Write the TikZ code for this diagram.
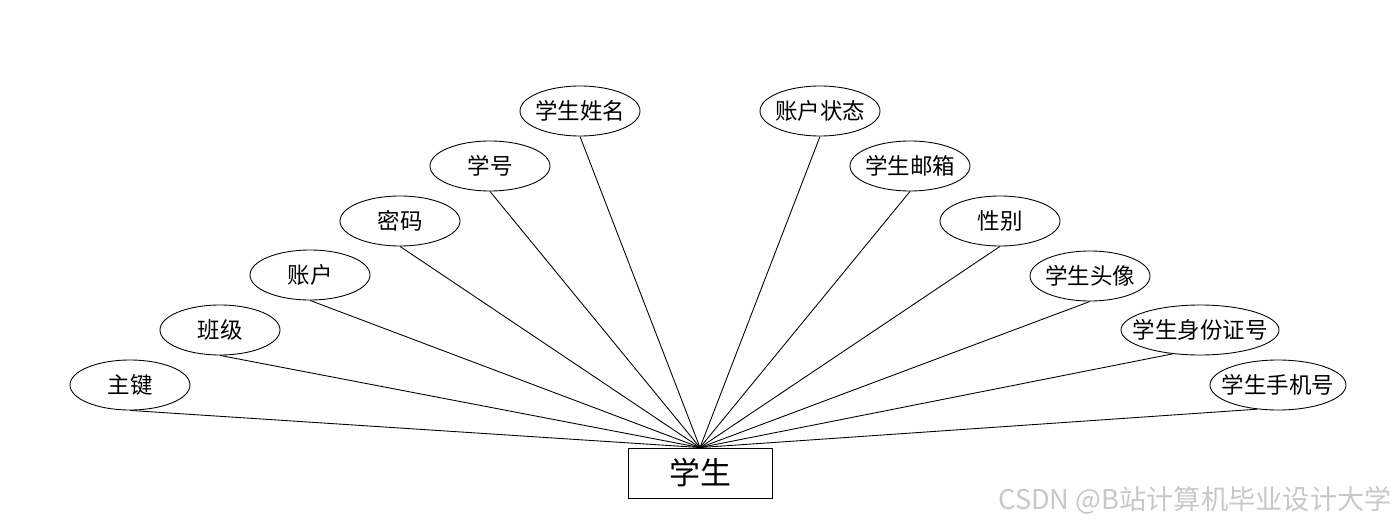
\documentclass[tikz,border=0pt]{standalone}
\usepackage{fontspec}
\setmainfont{Noto Sans CJK SC}
\usetikzlibrary{shapes.geometric}
\definecolor{markcol}{RGB}{200,200,200}

\begin{document}
\begin{tikzpicture}[
  attr/.style ={ellipse,draw,minimum width=2.4cm,minimum height=1.0cm,
                inner xsep=-0.4cm,inner ysep=0pt,font=\fontsize{12.8}{14}\selectfont,
                line width=0.5pt},
  entity/.style={rectangle,draw,minimum width=2.88cm,minimum height=1.0cm,
                inner sep=0pt,font=\fontsize{17.6}{20}\selectfont,line width=0.5pt},
  conn/.style ={black,line width=0.5pt}
]
\useasboundingbox (0,0) rectangle (28,10.56);

\node[entity] (stu) at (14.0, 1.10) {学生};

\node[attr] (zj)  at ( 2.6, 2.86) {主键};
\node[attr] (bj)  at ( 4.4, 3.96) {班级};
\node[attr] (zh)  at ( 6.2, 5.06) {账户};
\node[attr] (mm)  at ( 8.0, 6.14) {密码};
\node[attr] (xh)  at ( 9.8, 7.24) {学号};
\node[attr] (xm)  at (11.6, 8.34) {学生姓名};

\node[attr] (zt)  at (16.4, 8.34) {账户状态};
\node[attr] (yx)  at (18.2, 7.24) {学生邮箱};
\node[attr] (xb)  at (20.0, 6.14) {性别};
\node[attr] (tx)  at (21.8, 5.04) {学生头像};
\node[attr,minimum width=3.16cm] (sfz) at (24.0, 3.96) {学生身份证号};
\node[attr,minimum width=2.72cm] (sjh) at (25.56,2.86) {学生手机号};

\foreach \s in {zj,bj,zh,mm,xh,xm,zt,yx,xb,tx}
  \draw[conn] (\s.south)--(stu.north);
\draw[conn] (sfz.221)--(stu.north);
\draw[conn] (sjh.229)--(stu.north);

\node[anchor=east,text=markcol,font=\fontsize{15.5}{18}\selectfont] (wm) at (27.96, 0.56)
  {CSDN @B站计算机毕业设计大学};
\end{tikzpicture}
\end{document}
